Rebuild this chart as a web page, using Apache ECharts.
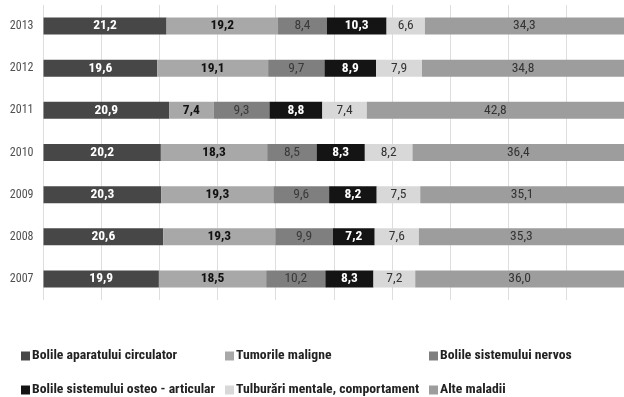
<!DOCTYPE html>
<html>
<head>
<meta charset="utf-8">
<script src="https://cdn.jsdelivr.net/npm/echarts@6/dist/echarts.min.js"></script>
<style>
  html, body { margin: 0; padding: 0; background: #fff; }
  #chart { width: 624px; height: 397px; }
</style>
</head>
<body>
<div id="chart"></div>
<script>
// Years shown on the category axis (bottom to top)
var years = ['2007', '2008', '2009', '2010', '2011', '2012', '2013'];

// Series names
var seriesNames = [
  'Bolile aparatului circulator',
  'Tumorile maligne',
  'Bolile sistemului nervos',
  'Bolile sistemului osteo - articular',
  'Tulburări mentale, comportament',
  'Alte maladii'
];

// Shares (%) per year, order 2007 .. 2013
var circulator = [19.9, 20.6, 20.3, 20.2, 20.9, 19.6, 21.2];
var tumori     = [18.5, 19.3, 19.3, 18.3, 7.4, 19.1, 19.2];
var nervos     = [10.2, 9.9, 9.6, 8.5, 9.3, 9.7, 8.4];
var osteo      = [8.3, 7.2, 8.2, 8.3, 8.8, 8.9, 10.3];
var mentale    = [7.2, 7.6, 7.5, 8.2, 7.4, 7.9, 6.6];
var alte       = [36.0, 35.3, 35.1, 36.4, 42.8, 34.8, 34.3];

var values = [circulator, tumori, nervos, osteo, mentale, alte];

var colors = ['#474747', '#a8a8a8', '#7f7f7f', '#141414', '#d8d8d8', '#9d9d9d'];
var labelColors = ['#ffffff', '#111111', '#3a3a3a', '#ffffff', '#333333', '#333333'];
var labelWeights = ['bold', 'bold', 'normal', 'bold', 'normal', 'normal'];

var FONT = '"Roboto Condensed", "Open Sans Condensed", "Liberation Sans", sans-serif';

// Each bar is drawn as a 100% stack: every segment is scaled by its year's total
var totals = years.map(function (_, i) {
  return values.reduce(function (s, arr) { return s + arr[i]; }, 0);
});

var series = values.map(function (arr, k) {
  return {
    name: seriesNames[k],
    type: 'bar',
    stack: 'total',
    barWidth: 17,
    itemStyle: { color: colors[k] },
    label: {
      show: true,
      position: 'inside',
      fontFamily: FONT,
      fontSize: 13.5,
      fontWeight: labelWeights[k],
      color: labelColors[k],
      formatter: function (p) { return arr[p.dataIndex].toFixed(1).replace('.', ','); }
    },
    data: arr.map(function (v, i) { return v / totals[i] * 100; })
  };
});

// One legend column holds two entries stacked vertically
function legendCol(left, names) {
  return {
    orient: 'vertical',
    left: left,
    top: 347,
    height: 120,
    padding: 0,
    itemWidth: 9,
    itemHeight: 9,
    itemGap: 16,
    icon: 'rect',
    data: names,
    textStyle: {
      fontFamily: FONT,
      fontSize: 13.7,
      fontWeight: 'bold',
      color: '#222',
      lineHeight: 18,
      padding: [0, 0, 0, -3]
    }
  };
}

var chart = echarts.init(document.getElementById('chart'), null, { renderer: 'canvas' });
chart.setOption({
  animation: false,
  color: colors,
  grid: { left: 43.5, right: 0, top: 5, bottom: 97, containLabel: false },
  legend: [
    legendCol(21, [seriesNames[0], seriesNames[3]]),
    legendCol(225, [seriesNames[1], seriesNames[4]]),
    legendCol(429, [seriesNames[2], seriesNames[5]])
  ],
  xAxis: {
    type: 'value',
    min: 0,
    max: 100,
    interval: 10,
    axisLabel: { show: false },
    axisLine: { show: false },
    axisTick: { show: false },
    splitLine: { show: true, lineStyle: { color: '#dedede', width: 1 } }
  },
  yAxis: {
    type: 'category',
    data: years,
    axisLine: { show: false },
    axisTick: { show: false },
    axisLabel: {
      margin: 10,
      fontFamily: FONT,
      fontSize: 12,
      color: '#505050'
    }
  },
  series: series
});
</script>
</body>
</html>
